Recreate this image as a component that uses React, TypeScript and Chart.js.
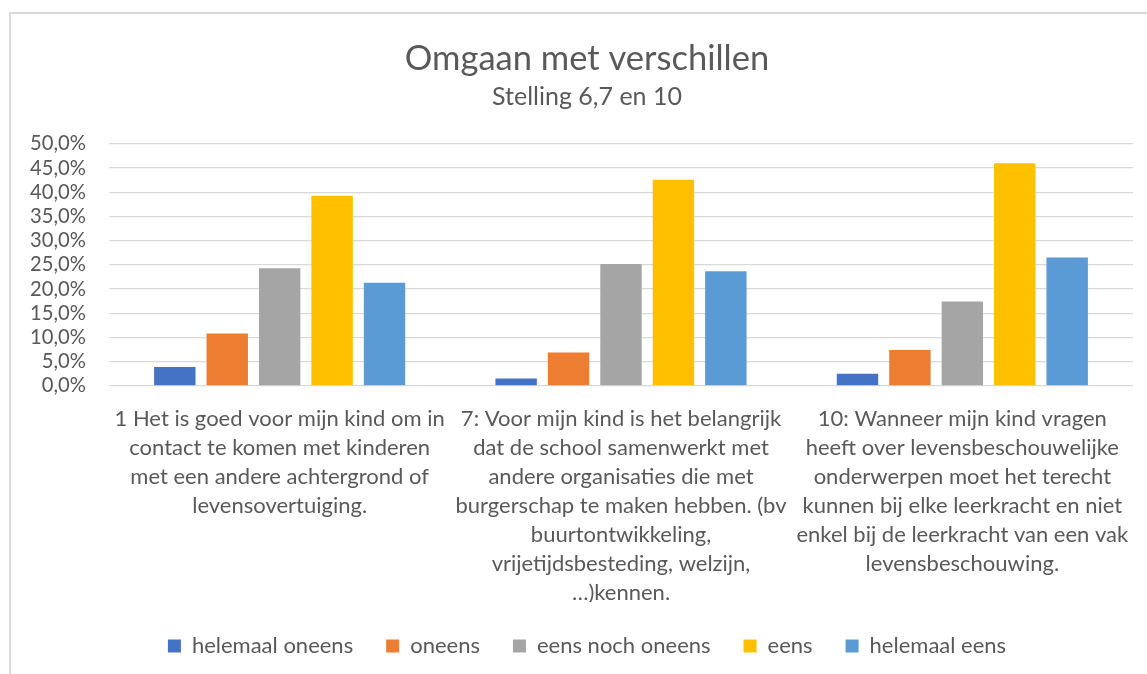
import React, { useEffect, useRef } from "react";
import { Chart, registerables } from "chart.js";

Chart.register(...registerables);

const categories: string[][] = [
  ["1 Het is goed voor mijn kind om in", "contact te komen met kinderen", "met een andere achtergrond of", "levensovertuiging."],
  ["7: Voor mijn kind is het belangrijk", "dat de school samenwerkt met", "andere organisaties die met", "burgerschap te maken hebben. (bv", "buurtontwikkeling,", "vrijetijdsbesteding, welzijn,", "…)kennen."],
  ["10: Wanneer mijn kind vragen", "heeft over levensbeschouwelijke", "onderwerpen moet het terecht", "kunnen bij elke leerkracht en niet", "enkel bij de leerkracht van een vak", "levensbeschouwing."],
];

const seriesNames = ["helemaal oneens", "oneens", "eens noch oneens", "eens", "helemaal eens"];
const helemaalOneens = [3.9, 1.5, 2.5];
const oneens = [10.8, 6.9, 7.4];
const eensNochOneens = [24.3, 25.2, 17.4];
const eens = [39.3, 42.6, 46.0];
const helemaalEens = [21.3, 23.7, 26.5];
const colors = ["#4472C4", "#ED7D31", "#A5A5A5", "#FFC000", "#5B9BD5"];

const FONT = "Lato, 'Open Sans', sans-serif";
const TEXT = "#595959";

export default function App() {
  const ref = useRef<HTMLCanvasElement>(null);
  useEffect(() => {
    document.body.style.overflow = "hidden";
    const values = [helemaalOneens, oneens, eensNochOneens, eens, helemaalEens];
    const chart = new Chart(ref.current!, {
      type: "bar",
      data: {
        labels: categories,
        datasets: seriesNames.map((name, i) => ({
          label: name,
          data: values[i],
          backgroundColor: colors[i],
          borderWidth: 0,
          categoryPercentage: 0.768,
          barPercentage: 0.79,
        })),
      },
      options: {
        animation: false,
        responsive: false,
        maintainAspectRatio: false,
        layout: { padding: { left: 0, right: 0, top: 12, bottom: 33 } },
        plugins: {
          title: {
            display: true,
            text: "Omgaan met verschillen",
            color: TEXT,
            font: { family: FONT, size: 34.5, weight: "normal", lineHeight: 1.2 },
            padding: { top: 26, bottom: 0 },
          },
          subtitle: {
            display: true,
            text: "Stelling 6,7 en 10",
            color: TEXT,
            font: { family: FONT, size: 25, weight: "normal", lineHeight: 1.2 },
            padding: { top: 3, bottom: 31.5 },
          },
          legend: {
            display: true,
            position: "bottom",
            labels: {
              color: TEXT,
              font: { family: FONT, size: 22 },
              boxWidth: 13,
              boxHeight: 13,
              padding: 33,
            },
          },
          tooltip: { enabled: false },
        },
        scales: {
          x: {
            grid: { display: false, drawTicks: false },
            border: { display: false },
            ticks: {
              color: TEXT,
              font: { family: FONT, size: 22, lineHeight: 1.318 },
              padding: 19,
              maxRotation: 0,
              autoSkip: false,
            },
            afterFit: (scale: any) => {
              scale.height = 216.2;
            },
          },
          y: {
            min: 0,
            max: 50,
            grid: { color: "#D9D9D9", lineWidth: 1.3, drawTicks: false },
            border: { display: false },
            ticks: {
              stepSize: 5,
              autoSkip: false,
              color: TEXT,
              font: { family: FONT, size: 20.2 },
              padding: 23,
              callback: (v: any) => Number(v).toFixed(1).replace(".", ",") + "%",
            },
            afterFit: (scale: any) => {
              scale.width = 109;
            },
          },
          yRight: {
            position: "right",
            min: 0,
            max: 50,
            grid: { display: false, drawTicks: false },
            border: { display: false },
            ticks: { display: false },
            afterFit: (scale: any) => {
              scale.width = 41;
            },
          },
        },
      },
    });
    return () => chart.destroy();
  }, []);
  return (
    <div style={{ position: "fixed", left: 0, top: 0, width: 1174, height: 700, background: "#fff" }}>
      <div
        style={{
          position: "absolute",
          left: 9,
          top: 12,
          width: 1200,
          height: 700,
          borderLeft: "2px solid #D9D9D9",
          borderTop: "2px solid #D9D9D9",
        }}
      />
      <canvas ref={ref} width={1174} height={700} style={{ position: "absolute", left: 0, top: 0 }} />
    </div>
  );
}
